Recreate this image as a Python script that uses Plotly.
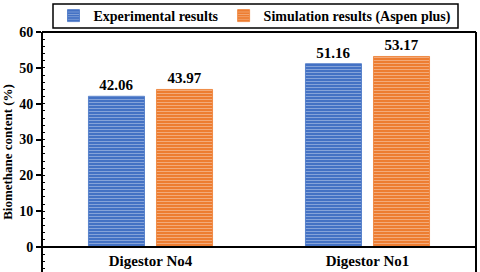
import plotly.graph_objects as go

categories = ["Digestor No4", "Digestor No1"]
experimental = [42.06, 51.16]
simulation = [43.97, 53.17]
series_names = ["Experimental results", "Simulation results (Aspen plus)"]
y_ticks = [0, 10, 20, 30, 40, 50, 60]

FONT = "Liberation Serif"
BLUE = "#4472C4"
ORANGE = "#ED7D31"

fig = go.Figure()
for name, vals, col in [(series_names[0], experimental, BLUE), (series_names[1], simulation, ORANGE)]:
    fig.add_trace(go.Bar(
        x=categories, y=vals, name=f"<b>{name}</b>",
        text=[f"<b>{v:.2f}</b>" for v in vals], textposition="outside",
        textfont=dict(family=FONT, size=15, color="black"),
        cliponaxis=False,
        marker=dict(color=col, line=dict(width=0.8, color=col),
                    pattern=dict(shape="-", fgcolor="rgba(255,255,255,0.7)", size=3, solidity=0.35)),
    ))

fig.update_layout(
    width=480, height=272,
    margin=dict(l=42, r=4, t=32, b=0, autoexpand=False),
    paper_bgcolor="white", plot_bgcolor="white",
    barmode="group", bargap=0.373, bargroupgap=0.176,
    font=dict(family=FONT, color="black"),
    showlegend=True,
    legend=dict(orientation="h", xref="container", yref="container",
                x=255/480, xanchor="center", y=1 - 16/272, yanchor="middle",
                borderwidth=0, bgcolor="rgba(0,0,0,0)",
                font=dict(family=FONT, size=14, color="black"),
                itemwidth=30, tracegroupgap=0),
    xaxis=dict(anchor="free", position=25/240, showline=True, linecolor="black", linewidth=2,
               ticks="", automargin=False, tickvals=categories,
               ticktext=[f"<b>{c}</b>" for c in categories],
               tickfont=dict(family=FONT, size=15, color="black"),
               showgrid=False, fixedrange=True),
    yaxis=dict(range=[-25/215*60, 60], tickvals=y_ticks, ticktext=[f"<b>{t}</b>" for t in y_ticks],
               showgrid=False, zeroline=False, automargin=False,
               showline=False, ticks="outside", ticklen=5, tickwidth=1.5, tickcolor="black",
               minor=dict(dtick=2, tick0=0, ticks="inside", ticklen=3, tickwidth=1, tickcolor="black"),
               tickfont=dict(family=FONT, size=14, color="black"),
               title=dict(text="<b>Biomethane content (%)</b>", font=dict(family=FONT, size=13, color="black"),
                          standoff=4)),
    shapes=[
        dict(type="line", xref="paper", yref="paper", x0=0, x1=0, y0=-0.1, y1=1, line=dict(color="black", width=2)),
        dict(type="line", xref="paper", yref="paper", x0=1, x1=1, y0=-0.1, y1=1, line=dict(color="black", width=2)),
        dict(type="line", xref="paper", yref="paper", x0=0, x1=1, y0=1, y1=1, line=dict(color="black", width=2)),
        dict(type="rect", xref="paper", yref="paper", x0=11/434, x1=416/434,
             y0=1 + 4/240, y1=1 + 28/240, line=dict(color="black", width=1.5), fillcolor="white",
             layer="below"),
    ],
)

fig.write_html("out.html", config={"displayModeBar": False},
               post_script="document.body.style.margin='0';document.body.style.overflow='hidden';")
